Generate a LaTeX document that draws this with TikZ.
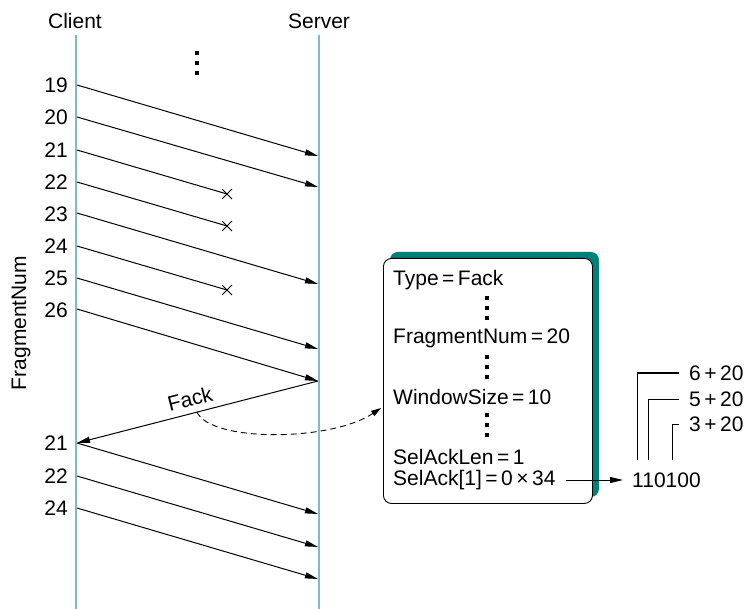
\documentclass[tikz,border=0pt]{standalone}
\usepackage{fontspec}
\setmainfont{Liberation Sans}
\usetikzlibrary{arrows.meta,shadows}
\definecolor{lifeline}{RGB}{125,190,182}
\definecolor{shadowteal}{RGB}{0,128,118}
\begin{document}
\begin{tikzpicture}[x=1pt,y=-1pt,
  font=\fontsize{21}{24}\selectfont,
  msg/.style={line width=1pt, -{Triangle[length=13pt,width=6pt]}},
  lost/.style={line width=1pt},
  lifeln/.style={line width=2.6pt, draw=lifeline},
  num/.style={anchor=east, inner sep=0pt},
  field/.style={anchor=west, inner sep=0pt},
  vdot/.style={rectangle, fill=black, inner sep=0pt, minimum size=3.3pt},
  bracket/.style={line width=1pt},
  xmark/.style={line width=0.9pt}
]
\useasboundingbox (0,0) rectangle (744,609);

% headers
\node (client) at (75,21) {Client};
\node (server) at (319,21) {Server};
\node[rotate=90] (ylabel) at (21,323) {FragmentNum};

% lifelines
\coordinate (ctop) at (76,35);
\coordinate (cbot) at (76,609);
\coordinate (stop) at (319,35);
\coordinate (sbot) at (319,609);
\draw[lifeln] (ctop) -- (cbot);
\draw[lifeln] (stop) -- (sbot);

% ellipsis
\node[vdot] (e1) at (197,53) {};
\node[vdot] (e2) at (197,63) {};
\node[vdot] (e3) at (197,73) {};

% sequence numbers
\node[num] (n19) at (68,85) {19};
\node[num] (n20) at (68,117) {20};
\node[num] (n21) at (68,150) {21};
\node[num] (n22) at (68,182) {22};
\node[num] (n23) at (68,214) {23};
\node[num] (n24) at (68,246) {24};
\node[num] (n25) at (68,278) {25};
\node[num] (n26) at (68,310) {26};
\node[num] (m21) at (68,443) {21};
\node[num] (m22) at (68,476) {22};
\node[num] (m24) at (68,508) {24};

% client start points
\coordinate (c19) at (77,85);
\coordinate (c20) at (77,117);
\coordinate (c21) at (77,150);
\coordinate (c22) at (77,182);
\coordinate (c23) at (77,213);
\coordinate (c24) at (77,246);
\coordinate (c25) at (77,278);
\coordinate (c26) at (77,309);
\coordinate (r21) at (77,443);
\coordinate (r22) at (77,476);
\coordinate (r24) at (77,508);

% server end points
\coordinate (s19) at (318,156);
\coordinate (s20) at (318,187);
\coordinate (s23) at (318,284);
\coordinate (s25) at (318,349);
\coordinate (s26) at (318,381);
\coordinate (t21) at (318,514);
\coordinate (t22) at (318,547);
\coordinate (t24) at (318,579);

% lost points
\coordinate (x21) at (227,194);
\coordinate (x22) at (227,226);
\coordinate (x24) at (227,290);

\draw[msg] (c19) -- (s19);
\draw[msg] (c20) -- (s20);
\draw[lost] (c21) -- (x21);
\draw[lost] (c22) -- (x22);
\draw[msg] (c23) -- (s23);
\draw[lost] (c24) -- (x24);
\draw[msg] (c25) -- (s25);
\draw[msg] (c26) -- (s26);

\foreach \p in {x21,x22,x24}{
  \draw[xmark] ([shift={(-5,-5)}]\p) -- ([shift={(5,5)}]\p);
  \draw[xmark] ([shift={(-5,5)}]\p) -- ([shift={(5,-5)}]\p);
}

% Fack
\draw[msg] (s26) -- (r21);
\node[rotate=14.4, inner sep=1pt] (facklbl) at (190,399) {Fack};

\draw[msg] (r21) -- (t21);
\draw[msg] (r22) -- (t22);
\draw[msg] (r24) -- (t24);

% box
\node[draw, line width=0.9pt, rounded corners=8pt, minimum width=209pt,
      minimum height=245pt, inner sep=0pt, anchor=north west, fill=white,
      drop shadow={opacity=1, fill=shadowteal, shadow xshift=6.5pt, shadow yshift=6.5pt}]
      (box) at (383,258) {};

\node[field] (ftype) at (393,280) {Type\,=\,Fack};
\node[field] (ffrag) at (393,338) {FragmentNum\,=\,20};
\node[field] (fwin) at (393,397) {WindowSize\,=\,10};
\node[field] (flen) at (393,457) {SelAckLen\,=\,1};
\node[field] (fsel) at (393,480) {SelAck[1]\,=\,0\,×\,34};

\node[vdot] (b1) at (487,298) {};
\node[vdot] (b2) at (487,308) {};
\node[vdot] (b3) at (487,318) {};
\node[vdot] (b4) at (487,357) {};
\node[vdot] (b5) at (487,367) {};
\node[vdot] (b6) at (487,377) {};
\node[vdot] (b7) at (487,415) {};
\node[vdot] (b8) at (487,425) {};
\node[vdot] (b9) at (487,435) {};

% dashed link
\coordinate (fackpt) at (197,412);
\coordinate (dashend) at (381,408);
\draw[line width=0.9pt, dash pattern=on 6pt off 4pt, -{Triangle[length=10pt,width=6pt]}]
  (fackpt) .. controls (210,442) and (330,442) .. (dashend);

% bits
\node[field] (bits) at (632,480) {110100};
\draw[msg] ([xshift=10pt]fsel.east) -- ([xshift=-9pt]bits.west);

\coordinate (k6) at (637.5,460);
\coordinate (k5) at (648.5,460);
\coordinate (k3) at (672,460);
\node[field] (l6) at (689,373) {6\,+\,20};
\node[field] (l5) at (689,399) {5\,+\,20};
\node[field] (l3) at (689,424) {3\,+\,20};
\draw[bracket] (k6) |- ([xshift=-10pt]l6.west);
\draw[bracket] (k5) |- ([xshift=-10pt]l5.west);
\draw[bracket] (k3) |- ([xshift=-10pt]l3.west);

\end{tikzpicture}
\end{document}
